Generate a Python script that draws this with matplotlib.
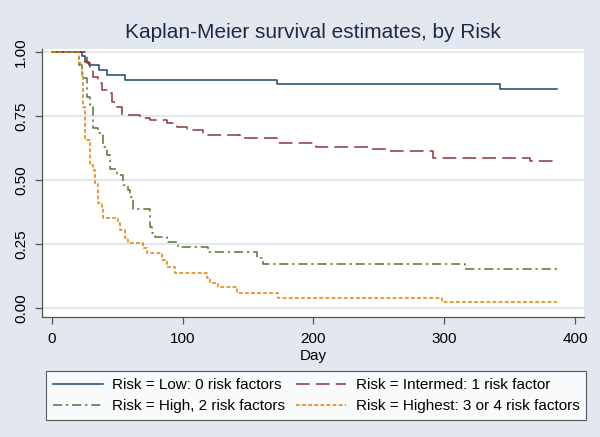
import matplotlib
matplotlib.use('Agg')
from matplotlib import pyplot as plt

plt.rcParams['font.family'] = ['Liberation Sans', 'DejaVu Sans']

# step survival estimates (day, survival)
lowDays = [0, 22.7, 25, 28, 36, 42, 56, 172, 343]
lowSurv = [1.0, 0.985, 0.962, 0.949, 0.931, 0.911, 0.891, 0.876, 0.856]

intDays = [0, 26.5, 29, 31.6, 35.4, 38, 41.8, 45.7, 49.5, 53.3, 67.3, 75, 87.7,
           95.4, 103, 115.7, 143.8, 173, 202, 241.7, 257, 291.6, 365.6]
intSurv = [1.0, 0.959, 0.931, 0.904, 0.879, 0.852, 0.839, 0.807, 0.787, 0.755,
           0.742, 0.735, 0.722, 0.709, 0.696, 0.676, 0.666, 0.644, 0.628, 0.621,
           0.615, 0.585, 0.576]

highDays = [0, 21, 22.7, 26.5, 29, 31.6, 35.4, 39.2, 41.8, 44.4, 49.5, 54.5, 58.4,
            59.7, 62.2, 74.9, 76.2, 78.8, 87.7, 96.6, 119.6, 156.6, 161.6, 315.9]
highSurv = [1.0, 0.95, 0.898, 0.826, 0.794, 0.702, 0.683, 0.630, 0.598, 0.545,
            0.520, 0.480, 0.461, 0.435, 0.385, 0.317, 0.291, 0.278, 0.258, 0.239,
            0.219, 0.193, 0.171, 0.152]

hiestDays = [0, 21, 22.7, 24, 25.2, 29, 31.6, 32.9, 35.4, 38, 39.2, 50.7, 52, 55.8,
             58.4, 69.8, 72.4, 83.9, 87.7, 94.1, 118.3, 120.8, 127.2, 141.2, 173, 298.5]
hiestSurv = [1.0, 0.96, 0.918, 0.787, 0.657, 0.559, 0.539, 0.487, 0.409, 0.395,
             0.35, 0.330, 0.304, 0.272, 0.252, 0.233, 0.213, 0.187, 0.161, 0.135,
             0.115, 0.098, 0.080, 0.059, 0.039, 0.021]

lastDay = 386

labels = ['Risk = Low: 0 risk factors', 'Risk = Intermed: 1 risk factor',
          'Risk = High, 2 risk factors', 'Risk = Highest: 3 or 4 risk factors']
colors = ['#1a476f', '#90353b', '#55752f', '#e37e00']
dashes = [None, (9, 4), (6, 2.5, 1.5, 2.5), (2.5, 1.5)]

bg = '#e2e7f0'
fig = plt.figure(figsize=(6, 4.37), dpi=100, facecolor=bg)
ax = fig.add_axes([42/600, 1-317/437, (584-42)/600, (317-49)/437])
ax.set_facecolor('white')

series = [(lowDays, lowSurv), (intDays, intSurv), (highDays, highSurv), (hiestDays, hiestSurv)]
handles = []
for (d, s), c, ds, lab in zip(series, colors, dashes, labels):
    xs = list(d) + [lastDay]
    ys = list(s) + [s[-1]]
    line, = ax.plot(xs, ys, drawstyle='steps-post', color=c, lw=1.1, label=lab)
    if ds is not None:
        line.set_dashes(ds)
    handles.append(line)

ax.set_xlim(-7.65, 406.9)
ax.set_ylim(-0.036, 1.013)
ax.set_xticks([0, 100, 200, 300, 400])
ax.set_yticks([0, 0.25, 0.5, 0.75, 1.0])
ax.set_yticklabels(['0.00', '0.25', '0.50', '0.75', '1.00'], rotation=90, va='center')
ax.yaxis.grid(True, color='#e3e8ee', lw=1.5)
ax.set_axisbelow(True)
for side in ['top', 'right']:
    ax.spines[side].set_visible(False)
for side in ['left', 'bottom']:
    ax.spines[side].set_color('#555555')
    ax.spines[side].set_linewidth(0.9)
ax.tick_params(axis='both', colors='#555555', labelcolor='black', length=5, width=0.9, labelsize=11)
ax.tick_params(axis='x', pad=6)
ax.tick_params(axis='y', pad=5)

ax.set_xlabel('Day', fontsize=11, labelpad=2)
fig.text(313/600, 1-32/437, 'Kaplan-Meier survival estimates, by Risk',
         ha='center', va='center', fontsize=15, color='#1e2b45')

order = [0, 2, 1, 3]
leg = fig.legend([handles[i] for i in order], [labels[i] for i in order],
                 loc='center', bbox_to_anchor=(316/600, 1-395.5/437), ncol=2,
                 fontsize=11, frameon=True, fancybox=False, handlelength=3.3,
                 handletextpad=0.6, columnspacing=0.7, labelspacing=0.45,
                 borderpad=0.45)
leg.get_frame().set_edgecolor('#333333')
leg.get_frame().set_linewidth(0.8)

fig.savefig('out.png', dpi=100, facecolor=bg)
